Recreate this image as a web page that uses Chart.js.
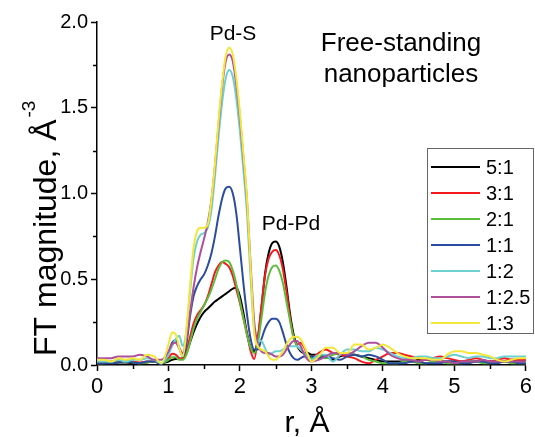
<!DOCTYPE html>
<html>
<head>
<meta charset="utf-8">
<script src="https://cdn.jsdelivr.net/npm/chart.js@4.4.1/dist/chart.umd.min.js"></script>
<style>
  html, body { margin: 0; padding: 0; background: #ffffff; }
  #wrap { position: relative; width: 535px; height: 437px; }
</style>
</head>
<body>
<div id="wrap"><canvas id="c" width="535" height="437"></canvas></div>
<script>
// r grid (Å)
const rValues = [0,0.1,0.2,0.3,0.4,0.5,0.6,0.7,0.8,0.9,1.0,
  1.05,1.1,1.15,1.2,1.25,1.3,1.35,1.4,1.45,1.5,
  1.55,1.6,1.65,1.7,1.75,1.8,1.85,1.9,1.95,2.0,
  2.05,2.1,2.15,2.2,2.25,2.3,2.35,2.4,2.45,2.5,
  2.55,2.6,2.65,2.7,2.75,2.8,2.85,2.9,2.95,3.0,
  3.1,3.2,3.3,3.4,3.5,3.6,3.7,3.8,3.9,4.0,
  4.1,4.2,4.3,4.4,4.5,4.6,4.7,4.8,4.9,5.0,
  5.1,5.2,5.3,5.4,5.5,5.6,5.7,5.8,5.9,6.0];

const seriesLabels = ["5:1","3:1","2:1","1:1","1:2","1:2.5","1:3"];

const s5to1 = [0.01,0.01,0.01,0.015,0.015,0.01,0.01,0.015,0.02,0.01,0.02,
  0.03,0.035,0.035,0.04,0.07,0.13,0.19,0.24,0.28,0.31,
  0.33,0.35,0.37,0.385,0.40,0.415,0.43,0.445,0.45,0.40,
  0.30,0.18,0.10,0.08,0.15,0.33,0.53,0.65,0.71,0.72,
  0.69,0.60,0.46,0.30,0.18,0.11,0.08,0.07,0.07,0.06,
  0.06,0.05,0.03,0.05,0.06,0.06,0.05,0.04,0.03,0.02,
  0.02,0.02,0.02,0.02,0.03,0.03,0.03,0.02,0.02,0.02,
  0.02,0.02,0.02,0.02,0.02,0.02,0.02,0.03,0.03,0.03];

const s3to1 = [0.015,0.015,0.02,0.02,0.025,0.02,0.015,0.02,0.02,0.01,0.04,
  0.065,0.06,0.04,0.035,0.08,0.16,0.24,0.29,0.32,0.35,
  0.40,0.47,0.54,0.58,0.60,0.59,0.57,0.52,0.44,0.36,
  0.27,0.18,0.08,0.035,0.16,0.34,0.52,0.62,0.66,0.67,
  0.64,0.56,0.43,0.28,0.16,0.12,0.13,0.10,0.06,0.04,
  0.07,0.09,0.07,0.06,0.05,0.04,0.02,0.01,0.03,0.05,
  0.07,0.07,0.06,0.05,0.04,0.03,0.04,0.05,0.04,0.03,
  0.02,0.03,0.04,0.03,0.02,0.03,0.04,0.03,0.03,0.03];

const s2to1 = [0.01,0.01,0.015,0.015,0.02,0.015,0.01,0.015,0.02,0.01,0.03,
  0.045,0.045,0.03,0.03,0.06,0.13,0.21,0.27,0.31,0.35,
  0.39,0.44,0.50,0.56,0.60,0.61,0.60,0.55,0.47,0.37,
  0.27,0.17,0.10,0.07,0.13,0.27,0.42,0.52,0.57,0.58,
  0.55,0.48,0.37,0.26,0.16,0.11,0.09,0.07,0.05,0.04,
  0.05,0.04,0.06,0.07,0.07,0.06,0.05,0.03,0.02,0.01,
  0.01,0.01,0.02,0.02,0.01,0.01,0.02,0.02,0.01,0.01,
  0.01,0.02,0.02,0.01,0.01,0.02,0.02,0.01,0.01,0.01];

const s1to1 = [0.01,0.01,0.01,0.015,0.02,0.015,0.01,0.02,0.02,0.005,0.07,
  0.13,0.145,0.10,0.05,0.12,0.28,0.40,0.46,0.50,0.53,
  0.58,0.65,0.75,0.87,0.97,1.03,1.04,1.00,0.88,0.68,
  0.47,0.29,0.15,0.09,0.09,0.15,0.21,0.25,0.27,0.27,
  0.25,0.19,0.12,0.07,0.04,0.03,0.04,0.05,0.05,0.05,
  0.04,0.05,0.04,0.03,0.05,0.06,0.05,0.06,0.05,0.03,
  0.01,0.01,0.01,0.02,0.02,0.01,0.01,0.01,0.02,0.02,
  0.01,0.01,0.02,0.02,0.01,0.01,0.02,0.02,0.01,0.01];

const s1to2 = [0.02,0.02,0.02,0.03,0.02,0.03,0.03,0.04,0.03,0.01,0.06,
  0.11,0.15,0.17,0.11,0.20,0.42,0.62,0.72,0.76,0.77,
  0.80,0.90,1.10,1.33,1.53,1.67,1.72,1.68,1.55,1.36,
  1.13,0.88,0.50,0.20,0.14,0.14,0.10,0.06,0.07,0.08,
  0.08,0.09,0.10,0.11,0.11,0.11,0.09,0.07,0.04,0.03,
  0.06,0.06,0.02,0.06,0.09,0.09,0.08,0.08,0.10,0.09,
  0.07,0.05,0.04,0.04,0.05,0.05,0.04,0.04,0.05,0.06,
  0.05,0.04,0.05,0.05,0.04,0.04,0.05,0.05,0.05,0.05];

const s1to25 = [0.04,0.04,0.04,0.05,0.05,0.05,0.06,0.05,0.03,0.03,0.08,
  0.12,0.13,0.10,0.07,0.15,0.30,0.45,0.57,0.66,0.74,
  0.83,0.96,1.16,1.40,1.62,1.77,1.81,1.77,1.63,1.44,
  1.20,0.95,0.58,0.25,0.12,0.08,0.07,0.07,0.06,0.05,
  0.05,0.06,0.09,0.12,0.14,0.14,0.11,0.06,0.03,0.02,
  0.03,0.05,0.07,0.07,0.06,0.08,0.11,0.13,0.13,0.10,
  0.06,0.04,0.03,0.03,0.02,0.03,0.03,0.02,0.02,0.01,
  0.02,0.02,0.02,0.03,0.02,0.02,0.02,0.02,0.02,0.02];

const s1to3 = [0.03,0.03,0.02,0.04,0.03,0.04,0.03,0.06,0.05,0.01,0.12,
  0.19,0.18,0.10,0.05,0.20,0.45,0.68,0.78,0.80,0.80,
  0.82,0.96,1.17,1.42,1.64,1.80,1.85,1.81,1.67,1.47,
  1.22,0.96,0.56,0.19,0.11,0.09,0.08,0.05,0.03,0.03,
  0.05,0.08,0.12,0.15,0.165,0.165,0.15,0.11,0.06,0.02,
  0.05,0.10,0.10,0.07,0.07,0.12,0.12,0.09,0.10,0.12,
  0.10,0.07,0.05,0.04,0.04,0.04,0.03,0.03,0.06,0.08,
  0.08,0.07,0.07,0.06,0.05,0.03,0.02,0.03,0.04,0.04];

const xTickValues = [0,1,2,3,4,5,6];
const yTickValues = [0.0,0.5,1.0,1.5,2.0];

const seriesValues = [s5to1, s3to1, s2to1, s1to1, s1to2, s1to25, s1to3];
const seriesColors = ["#000000","#f5191e","#5bbd3c","#2b4c9e","#6ccfd0","#ad4f9b","#f3e73a"];

const FONT = '"Liberation Sans", Arial, Helvetica, sans-serif';

const datasets = seriesLabels.map((lab, i) => ({
  label: lab,
  data: rValues.map((r, k) => ({x: r, y: seriesValues[i][k]})),
  borderColor: seriesColors[i],
  backgroundColor: seriesColors[i],
  borderWidth: 2,
  pointRadius: 0,
  fill: false,
  cubicInterpolationMode: 'monotone',
  order: seriesLabels.length - i
}));

const decorPlugin = {
  id: 'decor',
  afterDraw(chart) {
    const ctx = chart.ctx;
    const xs = chart.scales.x, ys = chart.scales.y;
    const area = chart.chartArea;
    ctx.save();
    // minor ticks
    ctx.strokeStyle = '#000';
    ctx.lineWidth = 1.5;
    ctx.beginPath();
    for (let v = 0.5; v < 6; v += 1) {
      const px = Math.round(xs.getPixelForValue(v)) + 0.5;
      ctx.moveTo(px, area.bottom); ctx.lineTo(px, area.bottom + 4);
    }
    for (let v = 0.25; v < 2; v += 0.5) {
      const py = Math.round(ys.getPixelForValue(v)) + 0.5;
      ctx.moveTo(area.left, py); ctx.lineTo(area.left - 4, py);
    }
    ctx.stroke();

    ctx.fillStyle = '#000';
    // y title
    ctx.save();
    ctx.translate(56, 356);
    ctx.rotate(-Math.PI / 2);
    ctx.font = '32px ' + FONT;
    ctx.textAlign = 'left';
    ctx.textBaseline = 'alphabetic';
    const ytxt = 'FT magnitude, Å';
    ctx.fillText(ytxt, 0, 0);
    const w = ctx.measureText(ytxt).width;
    ctx.font = '19px ' + FONT;
    ctx.fillText('-3', w + 2, -21);
    ctx.restore();

    // x title
    ctx.font = '30px ' + FONT;
    ctx.textAlign = 'center';
    ctx.textBaseline = 'alphabetic';
    ctx.fillText('r, Å', 307, 432);

    // annotations
    ctx.font = '21px ' + FONT;
    ctx.fillText('Pd-S', 233, 40);
    ctx.fillText('Pd-Pd', 291, 230);
    ctx.font = '26px ' + FONT;
    ctx.fillText('Free-standing', 401, 51);
    ctx.fillText('nanoparticles', 401, 82);

    // legend
    const lx = 427, ly = 148, lw = 107, lh = 186;
    ctx.fillStyle = '#fff';
    ctx.fillRect(lx, ly, lw, lh);
    ctx.strokeStyle = '#666';
    ctx.lineWidth = 1;
    ctx.strokeRect(lx + 0.5, ly + 0.5, lw - 1, lh - 1);
    ctx.font = '20px ' + FONT;
    ctx.textAlign = 'left';
    ctx.textBaseline = 'alphabetic';
    chart.data.datasets.forEach((ds, i) => {
      const yy = 167 + i * 26;
      ctx.strokeStyle = ds.borderColor;
      ctx.lineWidth = 2;
      ctx.beginPath();
      ctx.moveTo(431, yy); ctx.lineTo(480, yy);
      ctx.stroke();
      ctx.fillStyle = '#000';
      ctx.fillText(ds.label, 486, yy + 7);
    });
    ctx.restore();
  }
};

new Chart(document.getElementById('c'), {
  type: 'line',
  data: { datasets },
  plugins: [decorPlugin],
  options: {
    responsive: false,
    animation: false,
    devicePixelRatio: 1,
    layout: { padding: { top: 22, right: 8, left: 0, bottom: 0 } },
    plugins: { legend: { display: false }, tooltip: { enabled: false } },
    scales: {
      x: {
        type: 'linear', min: 0, max: 6,
        afterBuildTicks: (s) => { s.ticks = xTickValues.map(v => ({value: v})); },
        ticks: { color: '#000', font: { size: 22, family: FONT }, padding: 3, maxRotation: 0,
          callback: (v) => String(v) },
        grid: { drawOnChartArea: false, drawTicks: true, tickLength: 6, color: '#000', tickWidth: 1.5 },
        border: { display: true, color: '#000', width: 1.5 },
        afterFit: (s) => { s.height = 72; }
      },
      y: {
        type: 'linear', min: 0, max: 2,
        afterBuildTicks: (s) => { s.ticks = yTickValues.map(v => ({value: v})); },
        ticks: { color: '#000', font: { size: 20, family: FONT }, padding: 3,
          callback: (v) => Number(v).toFixed(1) },
        grid: { drawOnChartArea: false, drawTicks: true, tickLength: 6, color: '#000', tickWidth: 1.5 },
        border: { display: true, color: '#000', width: 1.5 },
        afterFit: (s) => { s.width = 97; }
      }
    }
  }
});
</script>
</body>
</html>
